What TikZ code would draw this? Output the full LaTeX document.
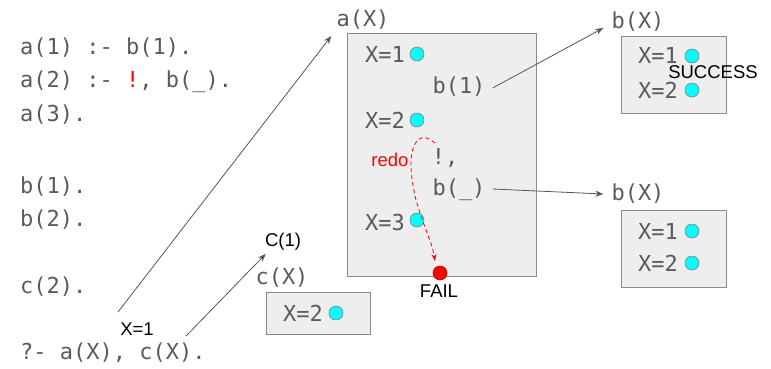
\documentclass[tikz,border=0pt]{standalone}
\usepackage{fontspec}
\setmainfont{Liberation Sans}
\newfontfamily\codefont{DejaVu Sans Mono}
\usetikzlibrary{arrows.meta,calc}
\definecolor{codegray}{HTML}{5A5A5A}
\definecolor{boxfill}{HTML}{EEEEEE}
\definecolor{boxline}{HTML}{8A8A8A}
\definecolor{dotcyan}{HTML}{00FFFF}
\definecolor{arrowgray}{HTML}{555555}
\begin{document}
\begin{tikzpicture}[x=1pt,y=-1pt,
  code/.style={font=\codefont\fontsize{22}{24}\selectfont, text=codegray, inner sep=0pt},
  lbl/.style={font=\fontsize{18.5}{21}\selectfont, inner sep=0pt},
  box/.style={draw=boxline, fill=boxfill, line width=1pt, inner sep=0pt, anchor=north west},
  dot/.style={circle, draw=gray, fill=dotcyan, minimum size=14pt, inner sep=0pt, line width=0.6pt},
  faildot/.style={circle, draw=red!80!black, fill=red, minimum size=14pt, inner sep=0pt, line width=0.6pt},
  conn/.style={draw=arrowgray, line width=0.8pt, -{Stealth[length=8pt,width=6pt]}},
]
\useasboundingbox (0,0) rectangle (771,368);

% program text
\node[code, anchor=west] (l1) at (20,48) {a(1) :- b(1).};
\node[code, anchor=west] (l2) at (20,82) {a(2) :- {\color{red}!}, b(\_).};
\node[code, anchor=west] (l3) at (20,115) {a(3).};
\node[code, anchor=west] (l4) at (20,187) {b(1).};
\node[code, anchor=west] (l5) at (20,220) {b(2).};
\node[code, anchor=west] (l6) at (20,287) {c(2).};
\node[code, anchor=west] (q) at (20,353) {?- a(X), c(X).};
\node[lbl] (x1) at (137,329) {X=1};

% a(X) box
\node[code] (alabel) at (363,20) {a(X)};
\node[box, minimum width=189pt, minimum height=243pt] (abox) at (347,33) {};
\node[code] (ax1) at (385,54) {X=1};
\node[dot] (ad1) at (417,54) {};
\node[code] (ab1) at (459,87) {b(1)};
\node[code] (ax2) at (385,120) {X=2};
\node[dot] (ad2) at (417,120) {};
\node[code] (acut) at (445,158) {!,};
\node[lbl, text=red] (redo) at (390,160) {redo};
\node[code] (abu) at (459,190) {b(\_)};
\node[code] (ax3) at (385,222) {X=3};
\node[dot] (ad3) at (417,220) {};
\node[faildot] (fail) at (440,273) {};
\node[lbl] (failt) at (439,291) {FAIL};

% c(X) box
\node[lbl] (c1) at (283,242) {C(1)};
\node[code] (clabel) at (282,278) {c(X)};
\node[box, minimum width=104pt, minimum height=42pt] (cbox) at (266,292) {};
\node[code] (cx2) at (303,313) {X=2};
\node[dot] (cd2) at (336,313) {};

% b(X) top
\node[code] (blabel1) at (638,22) {b(X)};
\node[box, minimum width=105pt, minimum height=77pt] (bbox1) at (621,36) {};
\node[code] (b1x1) at (658,55) {X=1};
\node[dot] (b1d1) at (692,56) {};
\node[code] (b1x2) at (658,90) {X=2};
\node[dot] (b1d2) at (692,90) {};
\node[lbl] (succ) at (713,72) {SUCCESS};

% b(X) bottom
\node[code] (blabel2) at (638,194) {b(X)};
\node[box, minimum width=105pt, minimum height=77pt] (bbox2) at (621,210) {};
\node[code] (b2x1) at (658,231) {X=1};
\node[dot] (b2d1) at (692,231) {};
\node[code] (b2x2) at (658,263) {X=2};
\node[dot] (b2d2) at (692,263) {};

% connectors
\coordinate (qa) at (118,312);
\coordinate (qc) at (186,336);
\draw[conn] (qa) -- ($(alabel.south west)+(-5,6)$);
\draw[conn] (qc) -- ($(c1.south west)+(1,3)$);
\draw[conn] ($(ab1.east)+(7,1)$) -- ($(blabel1.west)+(-8,6)$);
\draw[conn] ($(abu.east)+(7,-1)$) -- ($(blabel2.west)+(-8,0)$);

% redo
\coordinate (rs) at (435,143);
\coordinate (re) at (435,261);
\draw[red, dashed, dash pattern=on 4pt off 3pt, line width=0.8pt, -{Stealth[length=7pt,width=5pt]}]
  (rs) .. controls (428,138) and (424,135) .. (418,140)
       .. controls (408,150) and (410,175) .. (416,200)
       .. controls (424,228) and (432,242) .. (re);
\end{tikzpicture}
\end{document}
